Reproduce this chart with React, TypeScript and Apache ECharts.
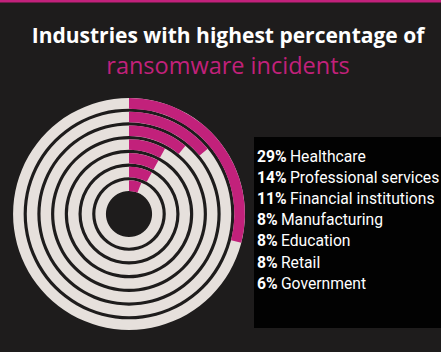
import React, { useEffect, useRef } from "react";
import * as echarts from "echarts";

const industries = [
  "Healthcare",
  "Professional services",
  "Financial institutions",
  "Manufacturing",
  "Education",
  "Retail",
  "Government",
];
const percentages = [29, 14, 11, 8, 8, 8, 6];
const titleLine1 = "Industries with highest percentage of";
const titleLine2 = "ransomware incidents";

const BG = "#1e1c1c";
const MAGENTA = "#c2217b";
const LIGHT = "#e6e0dc";

export default function App() {
  const ref = useRef<HTMLDivElement>(null);
  useEffect(() => {
    if (!ref.current) return;
    const chart = echarts.init(ref.current, null, { renderer: "svg" });
    const legendTexts = industries.map((name, i) => ({
      type: "text",
      left: 257,
      top: 148 + i * 21.2,
      style: {
        text: `{b|${percentages[i]}%} {r|${name}}`,
        rich: {
          b: { fontFamily: "Roboto", fontWeight: "bold", fontSize: 15.7, fill: "#ffffff" },
          r: { fontFamily: "Roboto", fontWeight: "normal", fontSize: 15.7, fill: "#ffffff" },
        },
      },
    }));
    chart.setOption({
      animation: false,
      backgroundColor: BG,
      title: [
        {
          text: titleLine1,
          left: 223,
          top: 19,
          textAlign: "center",
          textStyle: { color: "#ffffff", fontFamily: "Open Sans", fontWeight: "bold", fontSize: 21 },
        },
        {
          text: titleLine2,
          left: 223,
          top: 48,
          textAlign: "center",
          textStyle: { color: MAGENTA, fontFamily: "Open Sans", fontWeight: "normal", fontSize: 23.5 },
        },
      ],
      polar: { center: [129, 214], radius: [21.5, 117.5] },
      angleAxis: {
        type: "value",
        min: 0,
        max: 100,
        startAngle: 90,
        clockwise: true,
        axisLine: { show: false },
        axisTick: { show: false },
        axisLabel: { show: false },
        splitLine: { show: false },
      },
      radiusAxis: {
        type: "category",
        data: industries,
        inverse: true,
        axisLine: { show: false },
        axisTick: { show: false },
        axisLabel: { show: false },
        splitLine: { show: false },
      },
      graphic: [
        {
          type: "rect",
          left: 0,
          top: 0,
          shape: { width: 441, height: 2.5 },
          style: { fill: MAGENTA },
        },
        {
          type: "rect",
          left: 254,
          top: 137,
          shape: { width: 187, height: 191 },
          style: { fill: "#020202" },
        },
        ...legendTexts,
      ],
      series: [
        {
          type: "bar",
          coordinateSystem: "polar",
          data: percentages,
          barCategoryGap: "23%",
          showBackground: true,
          backgroundStyle: { color: LIGHT },
          itemStyle: { color: MAGENTA },
        },
      ],
    });
    return () => chart.dispose();
  }, []);
  return (
    <div
      ref={ref}
      style={{ position: "fixed", left: 0, top: 0, width: 441, height: 352 }}
    />
  );
}
